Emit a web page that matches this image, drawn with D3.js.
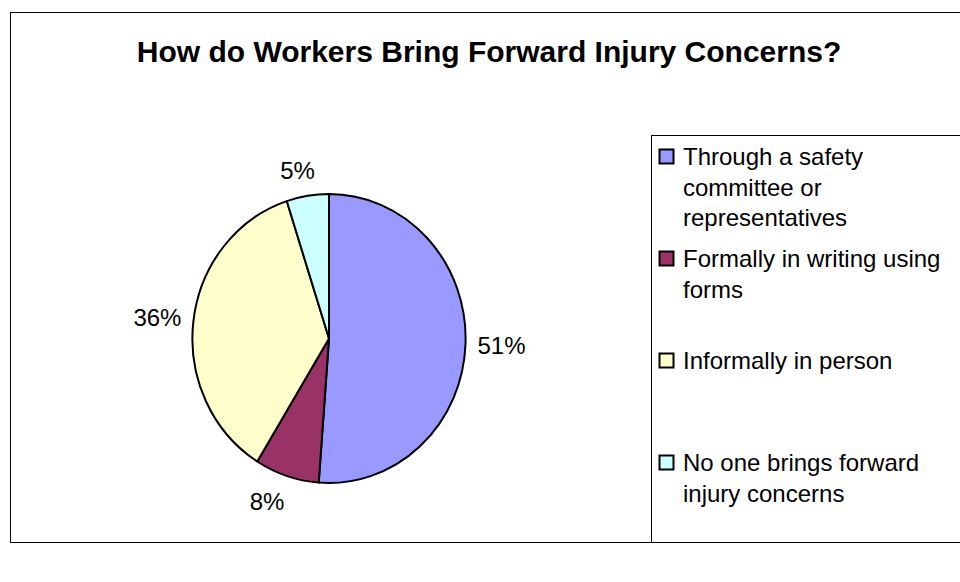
<!DOCTYPE html>
<html>
<head>
<meta charset="utf-8">
<script src="https://cdn.jsdelivr.net/npm/d3@7"></script>
<style>
  html, body { margin: 0; padding: 0; background: #fff; }
  svg { display: block; font-family: Arial, "Liberation Sans", sans-serif; }
</style>
</head>
<body>
<svg id="chart" width="960" height="582"></svg>
<script>
// ---- data ----
const title = "How do Workers Bring Forward Injury Concerns?";
const categories = [
  "Through a safety committee or representatives",
  "Formally in writing using forms",
  "Informally in person",
  "No one brings forward injury concerns"
];
const values = [51.2, 7.6, 36.2, 5.0];
const colors = ["#9999FF", "#993366", "#FFFFCC", "#CCFFFF"];

// ---- layout ----
const svg = d3.select("#chart");

// outer chart frame
svg.append("rect")
  .attr("x", 10.5).attr("y", 12.5)
  .attr("width", 980).attr("height", 530)
  .attr("fill", "#fff").attr("stroke", "#000").attr("stroke-width", 1);

// title
svg.append("text")
  .attr("x", 489).attr("y", 62)
  .attr("text-anchor", "middle")
  .attr("font-size", 30).attr("font-weight", "bold")
  .attr("fill", "#000")
  .text(title);

// pie (slightly elliptical, as in the reference)
const cx = 329, cy = 338.5, rx = 136.6, ry = 144.5;
const total = d3.sum(values);
const pie = d3.pie().sort(null).value(d => d)(values);
const arc = d3.arc().innerRadius(0).outerRadius(ry);

const pg = svg.append("g")
  .attr("transform", `translate(${cx},${cy}) scale(${rx / ry},1)`);
pg.selectAll("path.slice")
  .data(pie)
  .join("path")
  .attr("class", "slice")
  .attr("d", arc)
  .attr("fill", (d, i) => colors[i])
  .attr("stroke", "#000")
  .attr("stroke-width", 2)
  .attr("stroke-linejoin", "round")
  .attr("vector-effect", "non-scaling-stroke");

// percentage labels outside the pie
const fmt = v => Math.round(v / total * 100) + "%";
const clamp = v => Math.max(-1, Math.min(1, v));
const labelSize = 24, gap = 12, halfH = 14;
const lg = svg.append("g");
pie.forEach((d, i) => {
  const a = (d.startAngle + d.endAngle) / 2;
  const ux = Math.sin(a), uy = -Math.cos(a);
  const px = cx + rx * ux, py = cy + ry * uy;
  const t = lg.append("text")
    .attr("font-size", labelSize)
    .attr("fill", "#000")
    .attr("text-anchor", "middle")
    .text(fmt(d.value));
  const halfW = t.node().getComputedTextLength() / 2;
  const x = px + ux * gap + halfW * clamp(3 * ux);
  const y = py + uy * gap + halfH * clamp(1.2 * uy);
  t.attr("x", x).attr("y", y + labelSize * 0.716 / 2);
});

// legend
const lx = 651.5, ly = 135.5;
svg.append("rect")
  .attr("x", lx).attr("y", ly)
  .attr("width", 400).attr("height", 407)
  .attr("fill", "#fff").attr("stroke", "#000").attr("stroke-width", 1);

const legendSize = 24, lineH = 30.5, itemStep = 102, maxW = 272;
const firstBaseline = 165;
const leg = svg.append("g");
categories.forEach((name, i) => {
  const base = firstBaseline + i * itemStep;
  leg.append("rect")
    .attr("x", 659.5).attr("y", base - 15.5)
    .attr("width", 14).attr("height", 14)
    .attr("fill", colors[i])
    .attr("stroke", "#000").attr("stroke-width", 2);
  const txt = leg.append("text")
    .attr("x", 683).attr("y", base)
    .attr("font-size", legendSize)
    .attr("fill", "#000");
  // word-wrap
  const words = name.split(" ");
  let line = [], lineNo = 0;
  let tspan = txt.append("tspan").attr("x", 683).attr("y", base);
  words.forEach(w => {
    line.push(w);
    tspan.text(line.join(" "));
    if (tspan.node().getComputedTextLength() > maxW && line.length > 1) {
      line.pop();
      tspan.text(line.join(" "));
      line = [w];
      lineNo++;
      tspan = txt.append("tspan").attr("x", 683)
        .attr("y", base + lineNo * lineH).text(w);
    }
  });
});
</script>
</body>
</html>
